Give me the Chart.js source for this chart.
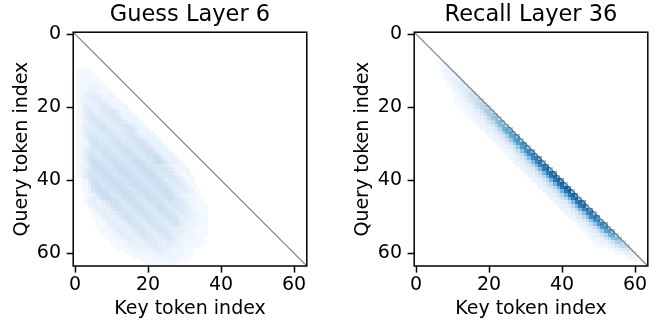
<!DOCTYPE html>
<html>
<head>
<meta charset="utf-8">
<script src="https://cdn.jsdelivr.net/npm/chart.js@4.4.1/dist/chart.umd.min.js"></script>
<style>
  body { margin: 0; background: #fff; }
  canvas { position: absolute; top: 0; }
  #guess { left: 0; }
  #recall { left: 334px; }
</style>
</head>
<body>
<canvas id="guess" width="334" height="325"></canvas>
<canvas id="recall" width="333" height="325"></canvas>
<script>
const titles = ['Guess Layer 6', 'Recall Layer 36'];
const xLabel = 'Key token index';
const yLabel = 'Query token index';
const tickValues = [0, 20, 40, 60];
const diagonal = [{x: -0.5, y: -0.5}, {x: 63.5, y: 63.5}];
// one base-36 level = this much of the Blues range, per panel
const guessStep = 0.018;
const recallStep = 0.024;

// [query row, first key column, attention levels (base 36)]
const guessRows = [
  [10,1,"1111"],
  [11,1,"11111"],
  [12,1,"112211"],
  [13,1,"1122211"],
  [14,1,"12233211"],
  [15,1,"122333211"],
  [16,1,"1255531222"],
  [17,1,"12456542222"],
  [18,1,"234566642222"],
  [19,1,"1243567642222"],
  [20,1,"13654578742233"],
  [21,1,"136864688885223"],
  [22,1,"1269865689852333"],
  [23,1,"12689875789853333"],
  [24,1,"124789875789863333"],
  [25,1,"136679a976679a96333"],
  [26,1,"1356679a976679a96333"],
  [27,1,"12678689a98689a963333"],
  [28,1,"125998689a98689a963333"],
  [29,1,"1148ba878aba878aba74443"],
  [30,1,"1227aba979aba979aba74443"],
  [31,1,"12459aba979aba979aba74443"],
  [32,1,"136789bcb989bcb989bcb74443"],
  [33,1,"1369989bcb989bcb989bcb84443"],
  [34,1,"126aba8abcba8abcba8abcb85443"],
  [35,1,"1159dca9acdca9acdca9acdc85543"],
  [36,1,"1238cdca9acdca9acdca99a9752233"],
  [37,1,"1357bcdcb9bcdcb9bcdcb9aaa752233"],
  [38,1,"13699bcdcb9bcdcb9bcdcb899964112"],
  [39,1,"137ab9bcdcb9bcdcb9bcdcb899964112"],
  [40,2,"137ab9bcdcb9bcdcb9bcdca77875311"],
  [41,2,"126bcb9bcdcb9bcdcb9bcdca77875311"],
  [42,2,"115adcb9bcdcb9bcdcb9bcdb96666411"],
  [43,2,"1238cdcb9bcdcb9bcdcb9bcdb86666411"],
  [44,3,"1238cdca9acdca9acdca9acca7443211"],
  [45,3,"1356acdca9acdca9acdca9acb97443211"],
  [46,3,"245447acba8abcba8abcba8aa98532211"],
  [47,4,"244447acb989bcb989bcb98a987532211"],
  [48,4,"1355547acb989bcb989bcb98876532111"],
  [49,5,"13554479ba979aba979aba9676543211"],
  [50,5,"113555479ba979aba979aba855443211"],
  [51,6,"113555469ba878aba878ab954433211"],
  [52,6,"1114655469a98689a98689a74332211"],
  [53,7,"1114654468a98689a9867654322111"],
  [54,7,"11124655468a97679a976654321111"],
  [55,8,"11124655468987578986543321111"],
  [56,9,"111245543589865689753322111"],
  [57,10,"11113554357876467653222111"],
  [58,11,"111234444567655544322111"],
  [59,12,"1111333334565432322110"],
  [60,14,"1112222234433122111"],
  [61,16,"1111122222332211"],
  [62,18,"1111111222111"],
  [63,20,"111111111"]
];

const recallRows = [
  [8,6,"111"],
  [9,7,"111"],
  [10,7,"1221"],
  [11,8,"1221"],
  [12,8,"12332"],
  [13,9,"12442"],
  [14,9,"123553"],
  [15,10,"124563"],
  [16,10,"1124675"],
  [17,11,"1235894"],
  [18,11,"112469a7"],
  [19,11,"111247bc5"],
  [20,12,"112358cd8"],
  [21,13,"112359ef7"],
  [22,14,"11236aega"],
  [23,15,"11246bgi8"],
  [24,16,"12247bhjc"],
  [25,17,"12247cik9"],
  [26,18,"12348dkme"],
  [27,19,"12358elna"],
  [28,20,"12358emog"],
  [29,21,"12359fnpb"],
  [30,22,"12359gnqh"],
  [31,23,"12359gorc"],
  [32,24,"1236ahpsi"],
  [33,25,"1236ahqtd"],
  [34,26,"2246biruk"],
  [35,27,"2246bjsve"],
  [36,28,"2246bjsvk"],
  [37,29,"2346bjtwe"],
  [38,30,"2346bjtwl"],
  [39,31,"2347ckuxf"],
  [40,32,"2347ckuxl"],
  [41,33,"2347ckuxf"],
  [42,34,"2347ckvym"],
  [43,35,"2347ckvyf"],
  [44,36,"2347ckuxl"],
  [45,37,"2347ckuxf"],
  [46,38,"2346bjtwl"],
  [47,39,"2346bjtwe"],
  [48,40,"2246bjsvk"],
  [49,41,"2246birue"],
  [50,42,"2246biruk"],
  [51,43,"1236ahqtd"],
  [52,44,"1236ahpsi"],
  [53,45,"12359gorc"],
  [54,46,"12359fnpg"],
  [55,47,"12348dkma"],
  [56,48,"12247bhjc"],
  [57,49,"112359ef7"],
  [58,50,"111247ab7"],
  [59,53,"1124673"],
  [60,55,"112443"],
  [61,58,"1221"],
  [62,60,"111"]
];

const bluesStops = [[247,251,255],[222,235,247],[198,219,239],[158,202,225],[107,174,214],[66,146,198],[33,113,181],[8,81,156],[8,48,107]];
function blues(t) {
  const p = Math.min(Math.max(t, 0), 1) * 8;
  const i = Math.min(Math.floor(p), 7);
  const f = p - i;
  const a = bluesStops[i], b = bluesStops[i + 1];
  return 'rgb(' + a.map((v, k) => Math.round(v + (b[k] - v) * f)).join(',') + ')';
}

const heatmap = {
  id: 'heatmap',
  beforeDatasetsDraw(chart, args, opts) {
    const {ctx, chartArea: a, scales: {x, y}} = chart;
    ctx.save();
    ctx.beginPath();
    ctx.rect(a.left, a.top, a.width, a.height);
    ctx.clip();
    opts.rows.forEach(([i, start, s]) => {
      const y0 = Math.round(y.getPixelForValue(i - 0.5)), y1 = Math.round(y.getPixelForValue(i + 0.5));
      for (let k = 0; k < s.length; k++) {
        const level = parseInt(s[k], 36);
        if (!level) continue;
        const j = start + k;
        const x0 = Math.round(x.getPixelForValue(j - 0.5)), x1 = Math.round(x.getPixelForValue(j + 0.5));
        ctx.fillStyle = blues(level * opts.step);
        ctx.fillRect(x0, y0, x1 - x0, y1 - y0);
      }
    });
    ctx.restore();
  },
  afterDraw(chart) {
    const {ctx, chartArea: a} = chart;
    ctx.save();
    ctx.strokeStyle = '#000';
    ctx.lineWidth = 1.5;
    ctx.strokeRect(a.left, a.top, a.width, a.height);
    ctx.restore();
  }
};

Chart.defaults.font.family = 'DejaVu Sans';
Chart.defaults.color = '#000';

const tickFont = {family: 'DejaVu Sans', size: 19};
const tickGrid = {display: true, drawOnChartArea: false, drawTicks: true, tickLength: 6.6, tickWidth: 1.5, tickColor: '#000'};

function panel(id, title, rows, step, yWidth, yTitlePad, padRight) {
  return new Chart(document.getElementById(id), {
    type: 'line',
    data: {
      datasets: [{
        data: diagonal,
        borderColor: 'rgba(0,0,0,0.55)',
        borderWidth: 1.1,
        pointRadius: 0,
        fill: false
      }]
    },
    options: {
      responsive: false,
      animation: false,
      devicePixelRatio: 1,
      layout: {padding: {left: 0, right: padRight, top: 0, bottom: 0}},
      plugins: {
        legend: {display: false},
        tooltip: {enabled: false},
        title: {
          display: true,
          text: title,
          fullSize: false,
          color: '#000',
          font: {family: 'DejaVu Sans', size: 22.5, weight: 'normal'},
          padding: {top: 1.5, bottom: 3.7}
        },
        heatmap: {rows: rows, step: step}
      },
      scales: {
        x: {
          type: 'linear',
          min: -0.5,
          max: 63.5,
          afterBuildTicks: s => { s.ticks = tickValues.map(v => ({value: v})); },
          afterFit: s => { s.height = 59; },
          grid: tickGrid,
          border: {display: false},
          ticks: {font: tickFont, color: '#000', padding: 1, maxRotation: 0},
          title: {display: true, text: xLabel, color: '#000', font: tickFont, padding: {top: 0, bottom: 4.6}}
        },
        y: {
          type: 'linear',
          reverse: true,
          min: -0.5,
          max: 63.5,
          afterBuildTicks: s => { s.ticks = tickValues.map(v => ({value: v})); },
          afterFit: s => { s.width = yWidth; },
          grid: tickGrid,
          border: {display: false},
          ticks: {font: tickFont, color: '#000', padding: 5.6},
          title: {display: true, text: yLabel, color: '#000', font: tickFont, padding: {top: yTitlePad, bottom: 0}}
        }
      }
    },
    plugins: [heatmap]
  });
}

panel('guess', titles[0], guessRows, guessStep, 73.2, 10.6, 27.2);
panel('recall', titles[1], recallRows, recallStep, 80.2, 17.6, 19.2);
</script>
</body>
</html>
